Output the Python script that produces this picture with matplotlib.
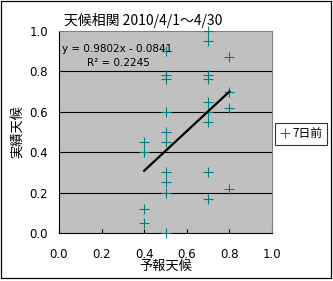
import matplotlib
matplotlib.use("Agg")
import matplotlib.pyplot as plt
import numpy as np
from matplotlib.patches import Rectangle

plt.rcParams["font.family"] = ["Noto Sans CJK JP", "DejaVu Sans"]

# forecast vs. actual weather index, 7 days ahead (2010/4/1-4/30)
forecast = [0.4, 0.4, 0.4, 0.4,
            0.5, 0.5, 0.5, 0.5, 0.5, 0.5, 0.5, 0.5, 0.5, 0.5,
            0.7, 0.7, 0.7, 0.7, 0.7, 0.7, 0.7, 0.7, 0.7,
            0.8, 0.8, 0.8, 0.8]
actual = [0.45, 0.40, 0.12, 0.05,
          0.90, 0.78, 0.76, 0.60, 0.50, 0.45, 0.30, 0.25, 0.20, 0.00,
          1.00, 0.95, 0.78, 0.76, 0.65, 0.60, 0.55, 0.30, 0.17,
          0.87, 0.70, 0.62, 0.22]
slope = 0.9802
intercept = -0.0841
r2 = 0.2245
series_name = "7日前"
title = "天候相関 2010/4/1～4/30"

fig = plt.figure(figsize=(3.33, 2.81), dpi=100)
fig.patches.append(Rectangle((0.003, 0.012), 0.991, 0.984, transform=fig.transFigure,
                             fill=False, edgecolor="black", linewidth=0.9))
ax = fig.add_axes([0.177, 0.171, 0.640, 0.719])
ax.set_facecolor("#c0c0c0")

ax.plot(forecast, actual, linestyle="none", marker="+", markersize=6.5,
        markeredgewidth=0.8, color="#008080", label=series_name, zorder=3,
        clip_on=False)

xs = np.array([min(forecast), max(forecast)])
ax.plot(xs, slope * xs + intercept, color="black", linewidth=1.6, zorder=4)

ax.set_xlim(0, 1)
ax.set_ylim(0, 1)
ticks = [0.0, 0.2, 0.4, 0.6, 0.8, 1.0]
ax.set_xticks(ticks)
ax.set_yticks(ticks)
ax.set_xticklabels([f"{t:.1f}" for t in ticks], fontsize=8.5, family="DejaVu Sans")
ax.set_yticklabels([f"{t:.1f}" for t in ticks], fontsize=8.5, family="DejaVu Sans")
ax.tick_params(axis="x", direction="in", length=3, width=0.8, pad=11)
ax.tick_params(axis="y", length=0, pad=8)
for y in [0.2, 0.4, 0.6, 0.8]:
    ax.axhline(y, color="black", linewidth=0.8, zorder=1)

ax.spines["left"].set_linewidth(0.8)
ax.spines["bottom"].set_linewidth(0.8)
ax.spines["top"].set_color("#808080")
ax.spines["right"].set_color("#808080")
ax.spines["top"].set_linewidth(0.8)
ax.spines["right"].set_linewidth(0.8)

ax.set_title(title, fontsize=10, pad=4, loc="left", x=0.025)
ax.set_xlabel("予報天候", fontsize=9.5, labelpad=-1)
ax.set_ylabel("実績天候", fontsize=9.5, labelpad=4)

ax.text(0.015, 0.91, f"y = {slope:.4f}x - {-intercept:.4f}", transform=ax.transAxes,
        fontsize=7.5, family="DejaVu Sans", va="center")
ax.text(0.13, 0.84, f"R² = {r2:.4f}", transform=ax.transAxes,
        fontsize=7.5, family="DejaVu Sans", va="center")

leg = ax.legend(loc="center left", bbox_to_anchor=(1.012, 0.49), fontsize=8.5,
                frameon=True, fancybox=False, handlelength=1.0, handletextpad=0.2,
                borderpad=0.35, borderaxespad=0)
leg.get_frame().set_edgecolor("black")
leg.get_frame().set_linewidth(0.8)

fig.savefig("out.png", dpi=100)
